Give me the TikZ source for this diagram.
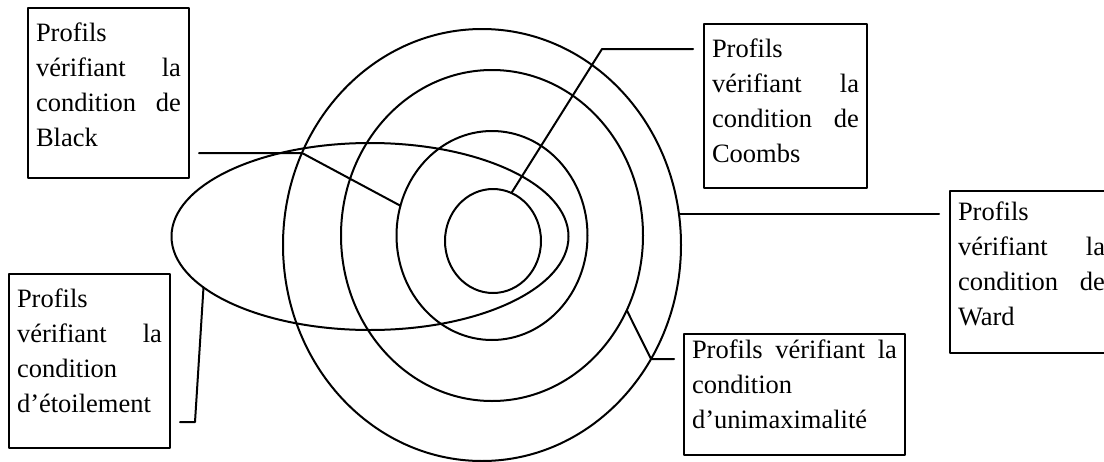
\documentclass[tikz,border=0pt]{standalone}
\usepackage{fontspec}
\setmainfont{Liberation Serif}
\usetikzlibrary{shapes.geometric}
\begin{document}
\begin{tikzpicture}[x=1pt, y=-1pt, line join=round, line cap=round,
	cadre/.style={draw, line width=2.6pt, anchor=north west, outer sep=0pt, inner xsep=8pt, inner ysep=0pt, align=left, font=\fontsize{26.5}{35}\selectfont},
	anneau/.style={draw, ellipse, line width=2pt, inner sep=0pt, outer sep=0pt},
	trait/.style={line width=2pt}]
				\def\haut#1{\rule{0pt}{#1pt}}
				\def\bas#1{\rule[-#1pt]{0pt}{0pt}}
				\useasboundingbox (0,0) rectangle (1104,461);
				\clip (0,0) rectangle (1104,461);
				\node [anneau, minimum width=398pt, minimum height=432pt] (Ward) at (482,245) {};
				\node [anneau, minimum width=302pt, minimum height=331pt] (Uni) at (492,235.5) {};
				\node [anneau, minimum width=191pt, minimum height=209pt] (Black) at (492,235.5) {};
				\node [anneau, minimum width=96pt, minimum height=104pt] (Coombs) at (493,241) {};
				\node [anneau, minimum width=397pt, minimum height=187pt] (Etoile) at (370,236.5) {};
				\node [cadre, text width=145pt] (boxBlack) at (28,8) {\haut{33}Profils\\ vérifiant\hfill la\\ condition\hfill de\\ Black\bas{32}};
				\node [cadre, text width=145pt] (boxEtoile) at (9,274) {\haut{33}Profils\\ vérifiant\hfill la\\ condition\\ d’étoilement\bas{36}};
				\node [cadre, text width=147pt] (boxCoombs) at (704,24) {\haut{33}Profils\\ vérifiant\hfill la\\ condition\hfill de\\ Coombs\bas{26}};
				\node [cadre, text width=147pt] (boxWard) at (950,191) {\haut{29}Profils\\ vérifiant\hfill la\\ condition\hfill de\\ Ward\bas{28}};
				\node [cadre, text width=205pt] (boxUni) at (684,334) {\haut{24}Profils\hfill vérifiant\hfill la\\ condition\\ d’unimaximalité\bas{27}};
				\draw [trait] ([shift={(10,-25)}]boxBlack.south east) -- ++(103,0) -- (Black.162);
				\draw [trait] ([shift={(-11,25)}]boxCoombs.north west) -- ++(-91,0) -- (Coombs.69);
				\draw [trait] (Ward.9) -- ([xshift=-11pt]boxWard.west |- Ward.9);
				\draw [trait] ([shift={(-10,25)}]boxUni.north west) -- ++(-23,0) -- (Uni.331);
				\draw [trait] ([shift={(10,-26)}]boxEtoile.south east) -- ++(15,0) -- (Etoile.197);
\end{tikzpicture}
\end{document}
